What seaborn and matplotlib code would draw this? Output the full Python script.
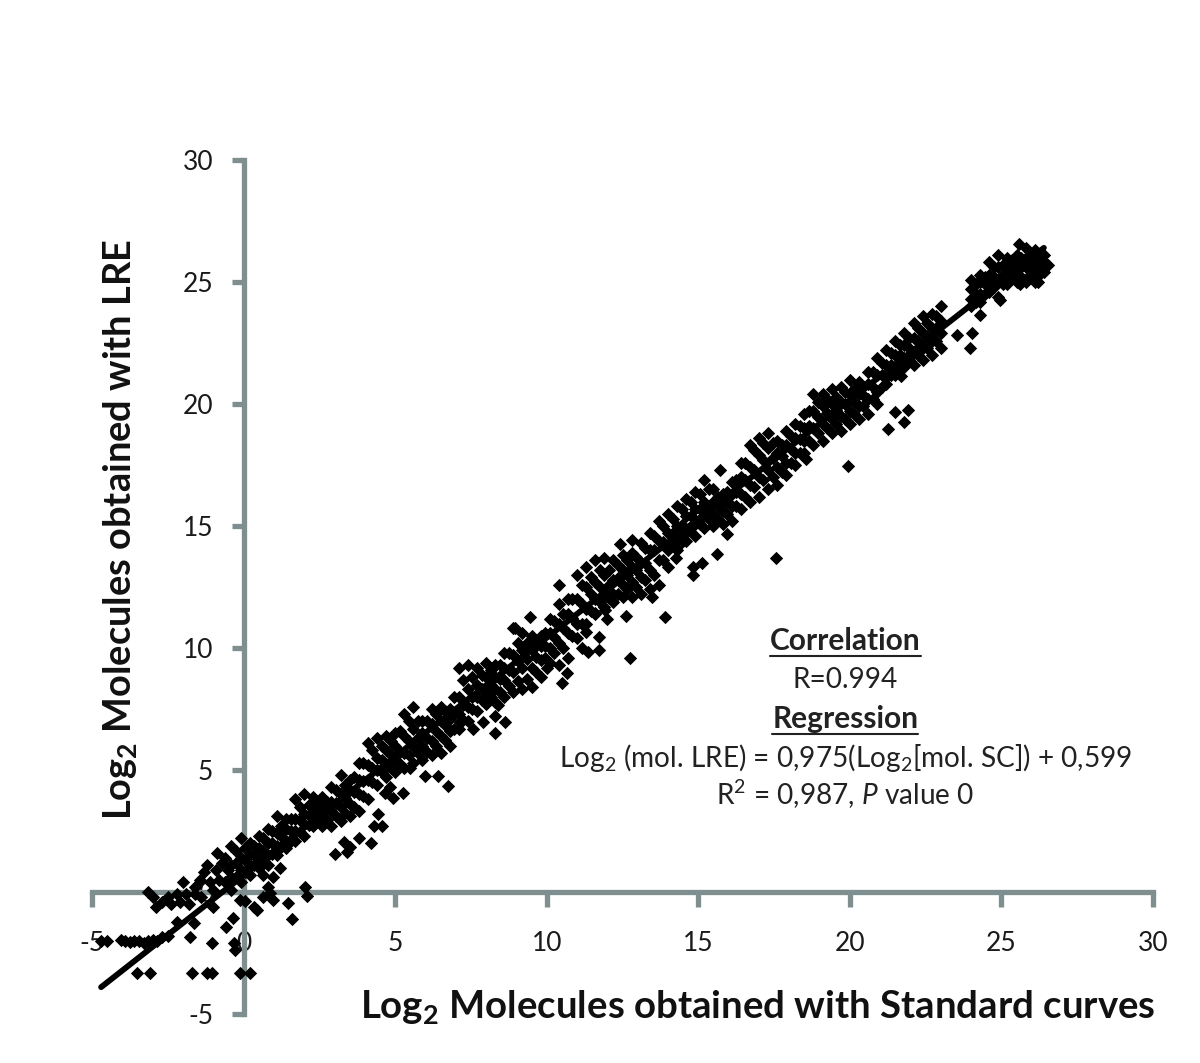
import matplotlib
matplotlib.use("Agg")
import matplotlib.pyplot as plt
import seaborn as sns
import pandas as pd

# columns of the dense band: x then 4 tracks from top to bottom edge
band_x = [-0.4,-0.1,0.2,0.5,0.8,1.1,1.4,1.7,2.0,2.3,2.6,2.9,3.2,3.5,3.8,4.1,4.4,4.7,5.0,5.3,5.6,5.9,6.2,6.5,6.8,
          7.1,7.4,7.7,8.0,8.3,8.6,8.9,9.2,9.5,9.8,10.1,10.4,10.7,11.0,11.3,11.6,11.9,12.2,12.5,12.8,
          13.1,13.4,13.7,14.0,14.3,14.6,14.9,15.2,15.5,15.8,16.1,16.4,16.7,17.0,17.3,17.6,17.9,18.2,18.5,18.8,
          19.1,19.4,19.7,20.0,20.3,20.6,20.9,21.2,21.5,21.8,22.1,22.4,22.7,23.0,
          24.0,24.3,24.6,24.9,25.2,25.5,25.8,26.1,26.4]
band_top = [1.9,2.2,2.0,2.3,2.6,3.1,3.0,3.8,4.0,3.9,3.9,4.3,4.8,4.6,5.3,6.1,6.3,6.4,6.5,7.3,7.6,7.0,7.5,7.6,7.5,
            9.2,9.3,9.2,9.4,9.3,9.8,10.8,10.6,10.5,10.5,11.2,11.8,12.0,13.0,13.3,13.6,13.7,13.6,13.8,13.9,
            14.3,14.7,15.2,15.5,15.8,16.1,16.4,16.9,16.5,16.3,16.8,17.6,18.3,18.6,18.8,18.5,18.9,19.2,19.6,20.4,
            20.4,20.6,20.7,21.0,20.9,21.3,21.9,22.2,22.6,22.9,23.3,23.6,23.7,24.0,
            25.1,25.3,25.8,26.1,26.0,26.1,26.4,26.3,26.1]
band_up = [1.1,1.4,1.5,1.8,2.0,2.4,2.6,3.0,3.2,3.4,3.5,3.7,4.0,4.2,4.6,5.2,5.5,5.8,6.0,6.4,6.7,6.5,6.9,7.0,7.1,
           8.0,8.3,8.5,8.8,8.8,9.2,9.7,9.9,9.9,10.1,10.6,11.0,11.4,12.0,12.5,12.7,13.0,12.8,13.2,13.3,
           13.5,14.0,14.4,14.7,15.0,15.4,15.7,16.0,16.0,16.0,16.3,17.0,17.4,17.9,18.2,18.0,18.3,18.6,19.0,19.7,
           19.9,20.0,20.1,20.4,20.4,20.8,21.2,21.6,22.0,22.4,22.7,22.9,23.1,23.4,
           24.7,25.0,25.3,25.6,25.7,25.8,26.0,25.9,25.8]
band_low = [0.6,0.9,1.1,1.3,1.5,1.9,2.1,2.5,2.8,3.0,3.1,3.3,3.5,3.6,4.0,4.6,5.0,5.2,5.4,5.7,6.0,6.0,6.2,6.4,6.6,
            7.3,7.6,8.0,8.2,8.3,8.7,9.0,9.2,9.2,9.5,10.0,10.2,10.6,11.0,11.6,12.0,12.2,12.2,12.6,12.7,
            12.9,13.2,13.6,14.0,14.4,14.7,15.1,15.4,15.5,15.6,15.8,16.3,16.7,17.0,17.3,17.4,17.6,18.0,18.5,19.0,
            19.2,19.4,19.5,19.7,19.9,20.2,20.5,21.1,21.5,21.9,22.1,22.3,22.6,22.9,
            24.3,24.5,24.9,25.1,25.4,25.5,25.6,25.5,25.6]
band_bot = [0.1,0.4,0.7,1.0,1.1,1.5,1.8,2.1,2.3,2.7,2.7,2.7,2.9,3.1,3.3,3.8,4.4,4.7,4.9,5.1,5.3,5.4,5.6,5.7,6.0,
            6.7,7.0,7.4,7.7,7.8,8.0,8.2,8.3,8.4,8.8,9.4,9.3,9.6,10.4,11.0,11.4,11.7,11.9,12.1,12.1,
            12.2,12.4,12.6,13.3,14.0,14.4,14.6,14.9,15.0,15.1,15.2,15.7,16.0,16.2,16.5,16.7,17.1,17.5,18.0,18.3,
            18.5,18.8,18.9,19.2,19.4,19.6,20.0,20.8,21.2,21.5,21.6,21.8,22.0,22.3,
            24.0,24.2,24.6,24.4,24.9,25.0,25.0,25.0,25.4]

# in-between columns that close up the band
fill_x = [-0.25,0.05,0.35,0.65,0.95,1.25,1.55,1.85,2.15,2.45,2.75,3.05,3.35,3.65,3.95,4.25,4.55,4.85,5.15,5.45,5.75,6.05,6.35,6.65,6.95,
          7.25,7.55,7.85,8.15,8.45,8.75,9.05,9.35,9.65,9.95,10.25,10.55,10.85,11.15,11.45,11.75,12.05,12.35,12.65,12.95,
          13.25,13.55,13.85,14.15,14.45,14.75,15.05,15.35,15.65,15.95,16.25,16.55,16.85,17.15,17.45,17.75,18.05,18.35,18.65,18.95,
          19.25,19.55,19.85,20.15,20.45,20.75,21.05,21.35,21.65,21.95,22.25,22.55,22.85,
          24.15,24.45,24.75,25.05,25.35,25.65,25.95,26.25]
fill_a = [1.7,1.8,1.9,2.2,2.5,2.7,3.0,3.5,3.55,3.6,3.7,4.2,4.4,4.7,5.3,5.8,6.0,6.2,6.6,7.0,7.0,7.0,7.3,7.4,8.0,
          8.7,8.8,8.9,9.1,9.3,9.8,10.2,10.2,10.2,10.6,11.1,11.4,12.0,12.6,12.9,13.2,13.2,13.4,13.6,13.75,
          14.1,14.6,15.0,15.3,15.7,16.0,16.3,16.5,16.2,16.4,16.9,17.6,18.1,18.4,18.4,18.3,18.7,19.1,19.7,20.1,
          20.2,20.3,20.5,20.6,20.7,21.3,21.7,22.1,22.4,22.7,23.1,23.3,23.6,
          24.9,25.2,25.6,25.7,25.9,26.0,26.1,26.0]
fill_b = [1.2,1.3,1.5,1.7,2.0,2.3,2.5,2.95,3.15,3.25,3.4,3.65,3.85,4.1,4.55,5.1,5.4,5.6,5.75,6.2,6.3,6.3,6.6,6.85,7.3,
          7.65,8.0,8.3,8.5,8.75,9.1,9.45,9.55,9.65,10.1,10.45,10.8,11.25,11.8,12.2,12.5,12.6,12.85,13.0,13.2,
          13.5,14.0,14.35,14.7,15.05,15.4,15.7,15.8,15.8,16.0,16.4,16.9,17.3,17.7,17.8,17.85,18.15,18.55,19.1,19.45,
          19.65,19.75,20.0,20.1,20.35,20.7,21.2,21.6,22.0,22.3,22.6,22.8,23.1,
          24.5,24.9,25.2,25.3,25.6,25.6,25.7,25.7]
fill_c = [0.6,0.8,1.1,1.25,1.55,1.85,2.1,2.45,2.75,2.9,2.95,3.1,3.25,3.5,3.95,4.5,4.9,5.1,5.25,5.6,5.7,5.75,6.0,6.25,6.7,
          7.05,7.5,7.85,8.0,8.2,8.45,8.65,8.75,9.0,9.6,9.8,10.0,10.5,11.0,11.5,11.9,12.05,12.2,12.4,12.5,
          12.8,13.0,13.6,14.2,14.5,14.9,15.1,15.3,15.3,15.5,15.8,16.2,16.6,16.9,17.0,17.2,17.6,18.0,18.5,18.8,
          19.0,19.2,19.4,19.6,19.9,20.2,20.7,21.2,21.5,21.8,22.0,22.3,22.6,
          24.2,24.5,24.8,24.9,25.2,25.2,25.3,25.3]

# stray points left of the band and around the origin
low_x = [-3.5,-3.1,-1.7,-1.2,-1.05,-0.12,0.2,-4.7,-4.5,-4.05,-3.9,-3.75,-3.6,-3.45,-3.3,-3.15,-3.0,-2.85,-2.7,-2.5,
         -1.77,-1.04,-0.28,-0.3,-0.59,-0.34,-1.63,-2.2,1.59,1.47,2.1,2.03,0.97,0.43,0.33,-0.12,0.05,0.64,0.87,0.8,0.64,0.97,1.2,
         -3.15,-3.0,-2.9,-2.7,-2.5,-2.4,-2.2,-2.1,-2.0,-1.9,-1.8,-1.6,-1.6,-1.45,-1.4,-1.3,-1.2,-1.1,-1.0,-1.0,-0.9,-0.87,-0.8,-0.7,-0.6,-0.6,-0.5]
low_y = [-3.33,-3.33,-3.33,-3.33,-3.33,-3.33,-3.33,-2.0,-2.0,-1.95,-2.0,-2.05,-2.0,-2.0,-2.1,-2.0,-1.95,-2.0,-1.85,-1.8,
         -1.85,-2.08,-2.38,-2.1,-1.42,-1.07,-1.26,-1.22,-1.1,-0.46,-0.15,0.2,-0.33,-0.74,-0.6,-0.33,-0.38,-0.2,-0.05,0.2,0.7,0.6,1.0,
         0.0,-0.2,-0.6,-0.4,-0.2,-0.5,-0.1,-0.4,0.4,-0.1,-0.5,-0.1,0.2,0.5,-0.2,0.8,1.1,0.4,0.1,-0.6,0.9,1.6,0.5,1.2,0.4,1.4,0.9]

# outliers under and over the band
stray_x = [3.0,3.4,3.5,3.3,4.2,3.8,4.57,4.45,4.3,4.94,5.27,4.67,4.83,5.5,6.0,6.4,6.75,
           8.3,8.63,7.9,8.3,7.58,7.14,8.4,12.75,11.73,11.73,11.17,11.37,11.3,10.5,10.0,10.66,13.9,12.6,12.0,11.93,11.6,13.47,
           14.83,15.13,14.83,15.63,15.96,17.57,14.43,14.27,10.4,9.46,8.96,12.43,12.8,15.7,
           25.57,19.95,18.55,21.27,21.77,21.5,21.93,21.7,23.97,24.04,23.55,24.3,24.96,26.55,25.6,26.2]
stray_y = [1.56,1.65,1.85,2.05,2.0,2.2,2.7,3.2,2.7,3.85,4.05,4.05,4.3,5.1,4.75,4.75,4.35,
           6.5,6.97,6.97,7.2,6.7,6.97,7.66,9.6,9.9,10.45,10.0,9.85,10.65,8.55,9.2,8.97,11.27,11.3,11.2,11.56,11.43,12.1,
           13.0,13.5,13.3,13.85,14.67,13.7,14.3,13.7,12.6,11.27,10.8,14.26,14.43,17.3,
           26.55,17.46,17.75,18.97,19.26,19.67,19.75,21.15,22.3,22.9,22.83,23.65,24.26,25.7,24.9,25.0]

line_x = [-4.7, 26.4]
line_y = [-3.9, 26.4]
ticks = [-5, 0, 5, 10, 15, 20, 25, 30]

sns.set_style("white")
plt.rcParams['font.family'] = ['Lato', 'DejaVu Sans']
plt.rcParams['axes.unicode_minus'] = False
plt.rcParams['mathtext.fontset'] = 'custom'
plt.rcParams['mathtext.rm'] = 'Lato'
plt.rcParams['mathtext.it'] = 'Lato:italic'
plt.rcParams['mathtext.bf'] = 'Lato:bold'

xs = list(low_x) + list(stray_x)
ys = list(low_y) + list(stray_y)
for track in [band_top, band_up, band_low, band_bot]:
    xs += band_x
    ys += track
for track in [fill_a, fill_b, fill_c]:
    xs += fill_x
    ys += track
df = pd.DataFrame({'sc': xs, 'lre': ys})

fig = plt.figure(figsize=(12, 10.63), dpi=100)
ax = fig.add_axes([92/1200, 1-1014/1063, (1153-92)/1200, (1014-160)/1063])
sns.scatterplot(x='sc', y='lre', data=df, marker='D', s=46, color='black', linewidth=0, ax=ax, clip_on=False, zorder=3)
sns.lineplot(x=line_x, y=line_y, color='black', linewidth=4.2, ax=ax, zorder=4)

axis_col = '#7f8f8f'
ax.set_xlim(-5, 30)
ax.set_ylim(-5, 30)
ax.set_xticks(ticks)
ax.set_yticks(ticks)
ax.spines['top'].set_visible(False)
ax.spines['right'].set_visible(False)
for s in ['left', 'bottom']:
    ax.spines[s].set_position(('data', 0))
    ax.spines[s].set_color(axis_col)
    ax.spines[s].set_linewidth(3.8)
    ax.spines[s].set_zorder(1)
ax.tick_params(axis='x', direction='out', bottom=True, length=11, width=3.8, color=axis_col, labelsize=19, pad=17, labelcolor='#1a1a1a')
ax.tick_params(axis='y', direction='out', left=True, length=9, width=3.8, color=axis_col, labelsize=19, pad=13, labelcolor='#1a1a1a')
for lab in ax.get_xticklabels() + ax.get_yticklabels():
    lab.set_zorder(2)

fig.text(1155/1200, 1-1007/1063, r"Log$_{\mathbf{2}}$ Molecules obtained with Standard curves",
         ha='right', va='center', fontsize=27.6, fontweight='bold', color='#111111')
fig.text(120/1200, 1-530/1063, r"Log$_{\mathbf{2}}$ Molecules obtained with LRE",
         ha='center', va='center', rotation=90, fontsize=27.4, fontweight='bold', color='#111111')

note_x = 19.85
t1 = ax.text(note_x, 10.29, "Correlation", ha='center', va='center', fontsize=21.5, fontweight='bold', color='#222222')
ax.text(note_x, 8.69, "R=0.994", ha='center', va='center', fontsize=20.2, color='#222222')
t2 = ax.text(note_x, 7.09, "Regression", ha='center', va='center', fontsize=21.5, fontweight='bold', color='#222222')
ax.text(note_x, 5.49, r"Log$_2$ (mol. LRE) = 0,975(Log$_2$[mol. SC]) + 0,599", ha='center', va='center', fontsize=20.2, color='#222222')
ax.text(note_x, 3.98, r"R$^2$ = 0,987, $\mathit{P}$ value 0", ha='center', va='center', fontsize=20.2, color='#222222')

ax.set_xlabel('')
ax.set_ylabel('')
ax.patch.set_alpha(0)

# underlines for the two headings
fig.canvas.draw()
for t in [t1, t2]:
    bb = t.get_window_extent()
    y = bb.y0 - 1
    fig.add_artist(plt.Line2D([bb.x0/1200, bb.x1/1200], [y/1063, y/1063], color='#222222', lw=1.5))

fig.savefig('out.png', dpi=100)
